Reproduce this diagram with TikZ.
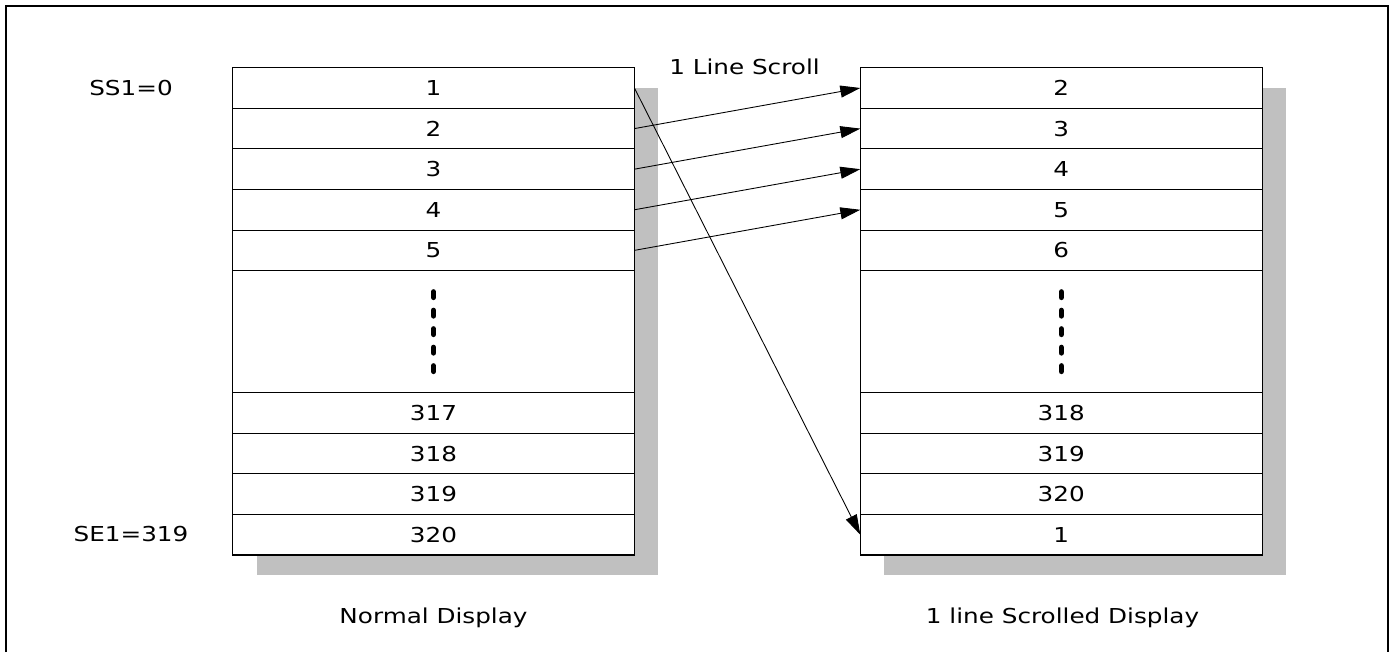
\documentclass[tikz,border=0pt]{standalone}
\usepackage{fontspec}
\setmainfont{DejaVu Sans}[FakeStretch=1.2]
\usetikzlibrary{positioning,arrows.meta,backgrounds}
\definecolor{ShadeGray}{HTML}{C0C0C0}
\tikzset{
  cell/.style={draw,fill=white,line width=0.6pt,minimum width=8.04cm,minimum height=0.812cm,inner sep=0pt,outer sep=0pt,font=\fontsize{11.7}{14}\selectfont},
  gapcell/.style={cell,minimum height=2.44cm},
  lbl/.style={anchor=base,inner sep=0pt,font=\fontsize{11.7}{14}\selectfont},
  scrollarrow/.style={line width=0.5pt,-{Triangle[length=0.4cm,width=0.24cm]}},
  vdot/.style={line width=0.11cm,line cap=round}
}
\begin{document}
\begin{tikzpicture}[x=0.02cm,y=-0.02cm]
\path[use as bounding box] (0,0) rectangle (1391,652);
\draw[line width=1.2pt] (6,652) -- (6,6) -- (1388,6) -- (1388,652);
% normal display
\node[cell,anchor=north west] (nL1) at (232.5,67.7) {1};
\node[cell,below=0pt of nL1] (nL2) {2};
\node[cell,below=0pt of nL2] (nL3) {3};
\node[cell,below=0pt of nL3] (nL4) {4};
\node[cell,below=0pt of nL4] (nL5) {5};
\node[gapcell,below=0pt of nL5] (nLgap) {};
\node[cell,below=0pt of nLgap] (nL317) {317};
\node[cell,below=0pt of nL317] (nL318) {318};
\node[cell,below=0pt of nL318] (nL319) {319};
\node[cell,below=0pt of nL319] (nL320) {320};
% scrolled display
\node[cell,anchor=north west] (nR2) at (860.3,67.7) {2};
\node[cell,below=0pt of nR2] (nR3) {3};
\node[cell,below=0pt of nR3] (nR4) {4};
\node[cell,below=0pt of nR4] (nR5) {5};
\node[cell,below=0pt of nR5] (nR6) {6};
\node[gapcell,below=0pt of nR6] (nRgap) {};
\node[cell,below=0pt of nRgap] (nR318) {318};
\node[cell,below=0pt of nR318] (nR319) {319};
\node[cell,below=0pt of nR319] (nR320) {320};
\node[cell,below=0pt of nR320] (nR1) {1};
% shadows
\begin{scope}[on background layer]
\fill[ShadeGray] ([shift={(24,20)}]nL1.north west) rectangle ([shift={(24,20)}]nL320.south east);
\fill[ShadeGray] ([shift={(24,20)}]nR2.north west) rectangle ([shift={(24,20)}]nR1.south east);
\end{scope}
% vertical dots
\foreach \g in {nLgap,nRgap}
  \foreach \k in {-2,...,2}
    \draw[vdot] ([yshift=-\k*0.37cm-0.055cm]\g.center) -- ([yshift=-\k*0.37cm+0.055cm]\g.center);
% labels
\node[lbl] (ss) at (131,95.7) {SS1=0};
\node[lbl] (se) at (131,541.7) {SE1=319};
\node[lbl] (scroll) at (744.5,74.5) {1 Line Scroll};
\node[lbl] (capL) at (433.5,623.3) {Normal Display};
\node[lbl] (capR) at (1062.5,623.3) {1 line Scrolled Display};
% arrows
\draw[scrollarrow] (nL2.east) -- (nR2.west);
\draw[scrollarrow] (nL3.east) -- (nR3.west);
\draw[scrollarrow] (nL4.east) -- (nR4.west);
\draw[scrollarrow] (nL5.east) -- (nR5.west);
\draw[scrollarrow] (nL1.east) -- (nR1.west);
\end{tikzpicture}
\end{document}
